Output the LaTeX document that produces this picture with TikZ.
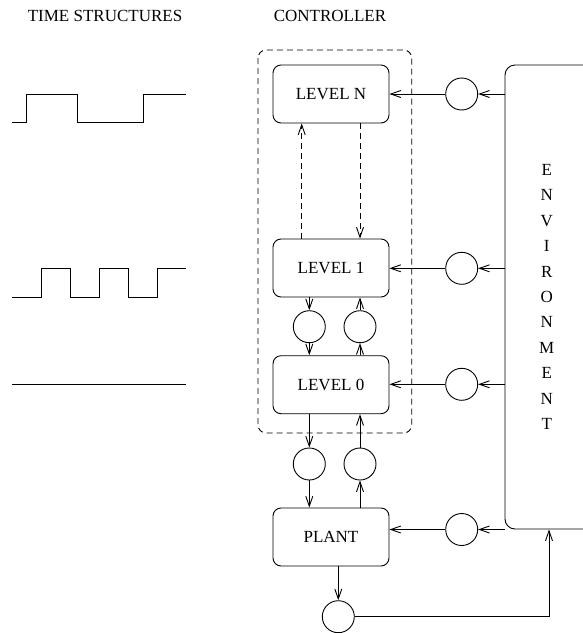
\documentclass[tikz,border=0pt]{standalone}
\usepackage{fontspec}
\setmainfont{Liberation Serif}
\usetikzlibrary{arrows.meta}
\tikzset{
  every node/.style={font=\fontsize{17}{20}\selectfont,inner sep=0pt},
  flow/.style={-{Straight Barb[length=10pt,width=7pt]},line width=.9pt},
  ctrl/.style={flow,dash pattern=on 6pt off 4pt},
  wave/.style={line width=.9pt},
  level/.style={draw,line width=.9pt,rounded corners=8pt,minimum width=116pt,
                minimum height=58pt},
  probe/.style={draw,circle,line width=.9pt,minimum size=32pt},
  group/.style={draw,line width=.9pt,dash pattern=on 6pt off 4pt,rounded corners=8pt},
}

\begin{document}
\begin{tikzpicture}[x=1pt,y=-1pt]          % y down, one unit per pixel of the target
\path[use as bounding box] (0,0) rectangle (583,633);
\node (tsHead) at (105,16) {TIME STRUCTURES};
\node (ctHead) at (330,16) {CONTROLLER};

% Time structures: slow clock, fast clock, continuous.
\draw[wave] (12,122.7) -- (26,122.7) -- (26,94.3) -- (77,94.3) -- (77,122.7)
            -- (143,122.7) -- (143,94.3) -- (186,94.3);
\draw[wave] (12,297) -- (41,297) -- (41,268.3) -- (70,268.3) -- (70,297)
            -- (99,297) -- (99,268.3) -- (128,268.3) -- (128,297)
            -- (157,297) -- (157,268.3) -- (186,268.3);
\draw[wave] (12,384.3) -- (186,384.3);

% The controller: a stack of levels inside one dashed frame.
\draw[group] (258,50) rectangle (411.7,433);
\node[level] (lvN) at (331,94) {LEVEL N};
\node[level] (lvOne) at (331,268) {LEVEL 1};
\node[level] (lvZero) at (331,384.7) {LEVEL 0};
\node[level] (plant) at (331,537) {PLANT};

\node[probe] (dnOne) at (309.3,326.7) {};
\node[probe] (upOne) at (360,326.7) {};
\node[probe] (dnZero) at (309.3,464) {};
\node[probe] (upZero) at (360,464) {};
\node[probe] (outP) at (338.3,616.7) {};

% Environment, its right side runs off the page.
\node[draw,line width=.9pt,rounded corners=10pt,minimum width=130pt,
      minimum height=464pt] (env) at (570,297) {};
\node[align=center,font=\fontsize{17}{25.4}\selectfont]
      (envText) at (546.7,297) {E\\N\\V\\I\\R\\O\\N\\M\\E\\N\\T};
\node[probe] (inN) at (461.7,94) {};
\node[probe] (inOne) at (461.7,268.3) {};
\node[probe] (inZero) at (461.7,384.3) {};
\node[probe] (inP) at (461.7,529.5) {};

% Sensing paths from the environment.
\foreach \src/\dst in {inN/lvN, inOne/lvOne, inZero/lvZero, inP/plant}{
  \draw[flow] (env.west |- \src) -- (\src);
  \draw[flow] (\src) -- (\dst.east |- \src);
}

% Dashed links between the top level and level 1.
\draw[ctrl] (lvOne.north -| 301.7,0) -- (lvN.south -| 301.7,0);
\draw[ctrl] (lvN.south -| upOne) -- (lvOne.north -| upOne);

% Downward commands, upward reports.
\draw[flow] (lvOne.south -| dnOne) -- (dnOne);
\draw[flow] (dnOne) -- (lvZero.north -| dnOne);
\draw[flow] (lvZero.north -| upOne) -- (upOne);
\draw[flow] (upOne) -- (lvOne.south -| upOne);
\draw[flow] (lvZero.south -| dnZero) -- (dnZero);
\draw[flow] (dnZero) -- (plant.north -| dnZero);
\draw[flow] (plant.north -| upZero) -- (upZero);
\draw[flow] (upZero) -- (lvZero.south -| upZero);

% The plant acts back on the environment.
\draw[flow] (outP) -| ([xshift=2.3pt]envText |- env.south);
\draw[flow] (plant.south -| outP) -- (outP);

\end{tikzpicture}
\end{document}
